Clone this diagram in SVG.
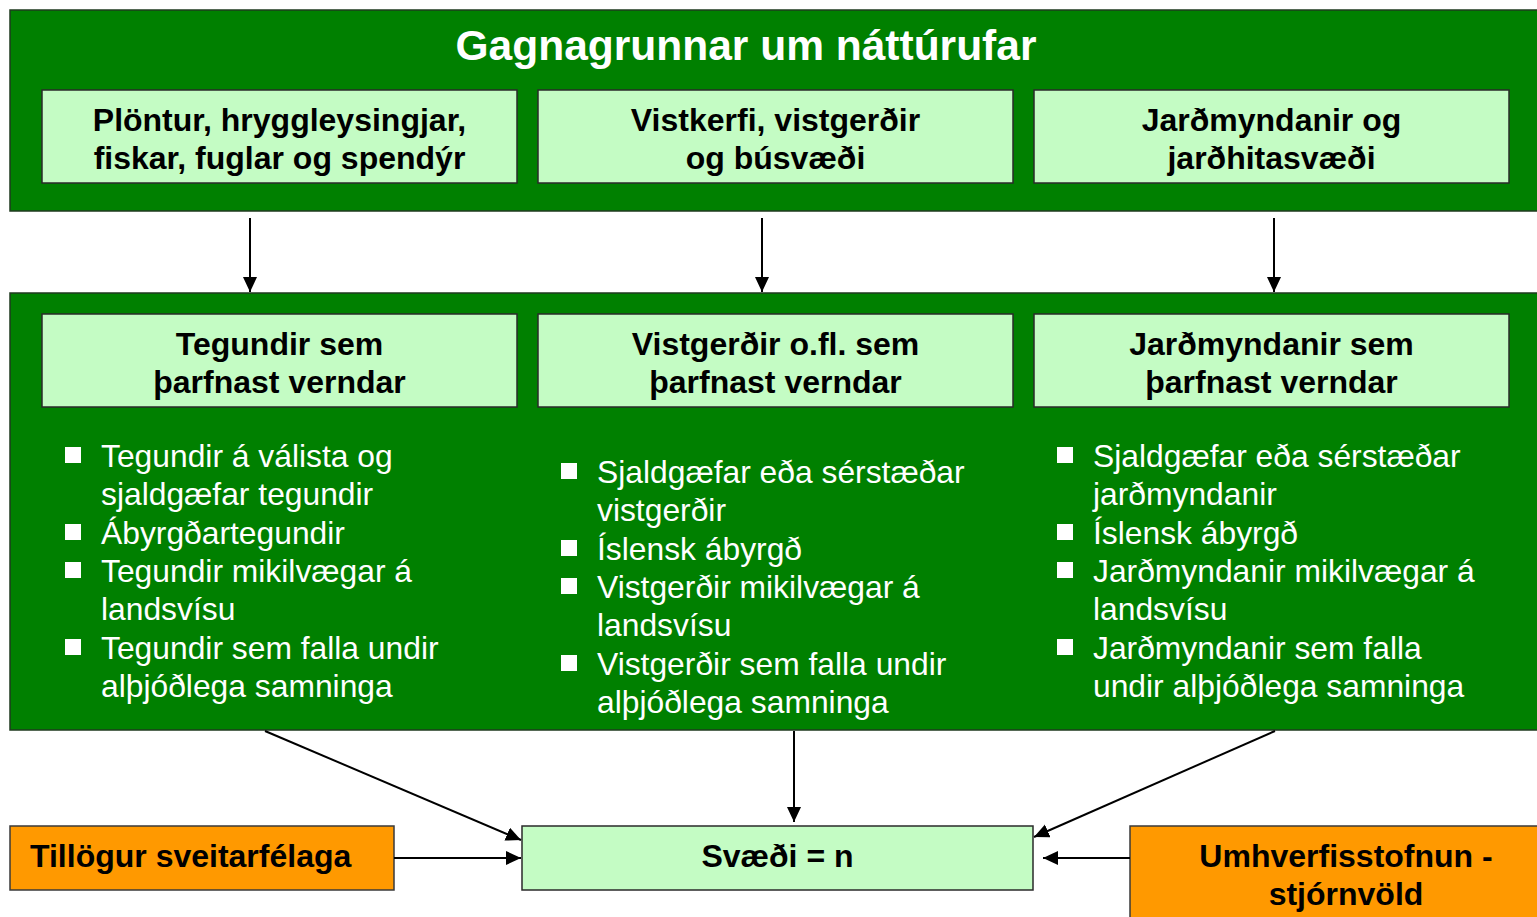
<svg xmlns="http://www.w3.org/2000/svg" width="1537" height="917" viewBox="0 0 1537 917">
<style>
.green{fill:#008000;stroke:#1f3a1f;stroke-width:1.5}
.light{fill:#c4fcc4;stroke:#2a2a2a;stroke-width:1.5}
.orange{fill:#ff9900;stroke:#3a3a3a;stroke-width:1.5}
.title{font-family:"Liberation Sans",Arial,sans-serif;font-weight:bold;font-size:42.5px;fill:#ffffff;text-anchor:middle}
.head{font-family:"Liberation Sans",Arial,sans-serif;font-weight:bold;font-size:32px;fill:#000000;text-anchor:middle}
.item{font-family:"Liberation Sans",Arial,sans-serif;font-size:31.8px;fill:#ffffff}
.bul{fill:#ffffff}
.conn{stroke:#000000;stroke-width:2;fill:none;marker-end:url(#arr)}
</style>
<defs>
<marker id="arr" markerUnits="userSpaceOnUse" markerWidth="16" markerHeight="16" refX="15" refY="7" orient="auto">
<path d="M0,0 L15,7 L0,14 z" fill="#000000"/>
</marker>
</defs>
<rect width="1537" height="917" fill="#ffffff"/>

<g id="database">
<rect class="green" x="10" y="10" width="1540" height="201"/>
<text class="title" x="746" y="60">Gagnagrunnar um náttúrufar</text>
</g>
<g id="db-species">
<rect class="light" x="42" y="90" width="475" height="93"/>
<text class="head" x="279.5" y="131">Plöntur, hryggleysingjar,</text>
<text class="head" x="279.5" y="169">fiskar, fuglar og spendýr</text>
</g>
<g id="db-ecosystems">
<rect class="light" x="538" y="90" width="475" height="93"/>
<text class="head" x="775.5" y="131">Vistkerfi, vistgerðir</text>
<text class="head" x="775.5" y="169">og búsvæði</text>
</g>
<g id="db-geology">
<rect class="light" x="1034" y="90" width="475" height="93"/>
<text class="head" x="1271.5" y="131">Jarðmyndanir og</text>
<text class="head" x="1271.5" y="169">jarðhitasvæði</text>
</g>

<g id="protection">
<rect class="green" x="10" y="293" width="1540" height="437"/>
</g>
<g id="prot-species">
<rect class="light" x="42" y="314" width="475" height="93"/>
<text class="head" x="279.5" y="355">Tegundir sem</text>
<text class="head" x="279.5" y="393">þarfnast verndar</text>
<rect class="bul" x="65" y="447" width="16" height="16"/>
<rect class="bul" x="65" y="524" width="16" height="16"/>
<rect class="bul" x="65" y="562" width="16" height="16"/>
<rect class="bul" x="65" y="639" width="16" height="16"/>
<text class="item" x="101" y="467">Tegundir á válista og</text>
<text class="item" x="101" y="505">sjaldgæfar tegundir</text>
<text class="item" x="101" y="544">Ábyrgðartegundir</text>
<text class="item" x="101" y="582">Tegundir mikilvægar á</text>
<text class="item" x="101" y="620">landsvísu</text>
<text class="item" x="101" y="659">Tegundir sem falla undir</text>
<text class="item" x="101" y="697">alþjóðlega samninga</text>
</g>
<g id="prot-habitats">
<rect class="light" x="538" y="314" width="475" height="93"/>
<text class="head" x="775.5" y="355">Vistgerðir o.fl. sem</text>
<text class="head" x="775.5" y="393">þarfnast verndar</text>
<rect class="bul" x="561" y="463" width="16" height="16"/>
<rect class="bul" x="561" y="540" width="16" height="16"/>
<rect class="bul" x="561" y="578" width="16" height="16"/>
<rect class="bul" x="561" y="655" width="16" height="16"/>
<text class="item" x="597" y="483">Sjaldgæfar eða sérstæðar</text>
<text class="item" x="597" y="521">vistgerðir</text>
<text class="item" x="597" y="560">Íslensk ábyrgð</text>
<text class="item" x="597" y="598">Vistgerðir mikilvægar á</text>
<text class="item" x="597" y="636">landsvísu</text>
<text class="item" x="597" y="675">Vistgerðir sem falla undir</text>
<text class="item" x="597" y="713">alþjóðlega samninga</text>
</g>
<g id="prot-geology">
<rect class="light" x="1034" y="314" width="475" height="93"/>
<text class="head" x="1271.5" y="355">Jarðmyndanir sem</text>
<text class="head" x="1271.5" y="393">þarfnast verndar</text>
<rect class="bul" x="1057" y="447" width="16" height="16"/>
<rect class="bul" x="1057" y="524" width="16" height="16"/>
<rect class="bul" x="1057" y="562" width="16" height="16"/>
<rect class="bul" x="1057" y="639" width="16" height="16"/>
<text class="item" x="1093" y="467">Sjaldgæfar eða sérstæðar</text>
<text class="item" x="1093" y="505">jarðmyndanir</text>
<text class="item" x="1093" y="544">Íslensk ábyrgð</text>
<text class="item" x="1093" y="582">Jarðmyndanir mikilvægar á</text>
<text class="item" x="1093" y="620">landsvísu</text>
<text class="item" x="1093" y="659">Jarðmyndanir sem falla</text>
<text class="item" x="1093" y="697">undir alþjóðlega samninga</text>
</g>

<g id="municipal">
<rect class="orange" x="10" y="826" width="384" height="64"/>
<text class="head" x="30" y="867" style="text-anchor:start">Tillögur sveitarfélaga</text>
</g>
<g id="areas">
<rect class="light" x="522" y="826" width="511" height="64"/>
<text class="head" x="777.5" y="867">Svæði = n</text>
</g>
<g id="agency">
<rect class="orange" x="1130" y="826" width="420" height="100"/>
<text class="head" x="1346" y="867">Umhverfisstofnun -</text>
<text class="head" x="1346" y="905">stjórnvöld</text>
</g>

<g id="connectors">
<line class="conn" x1="250" y1="218" x2="250" y2="292"/>
<line class="conn" x1="762" y1="218" x2="762" y2="292"/>
<line class="conn" x1="1274" y1="218" x2="1274" y2="292"/>
<line class="conn" x1="265" y1="731" x2="521" y2="840"/>
<line class="conn" x1="794" y1="731" x2="794" y2="822"/>
<line class="conn" x1="1275" y1="731" x2="1034" y2="837"/>
<line class="conn" x1="394" y1="858" x2="521" y2="858"/>
<line class="conn" x1="1130" y1="858" x2="1043" y2="858"/>
</g>
</svg>
